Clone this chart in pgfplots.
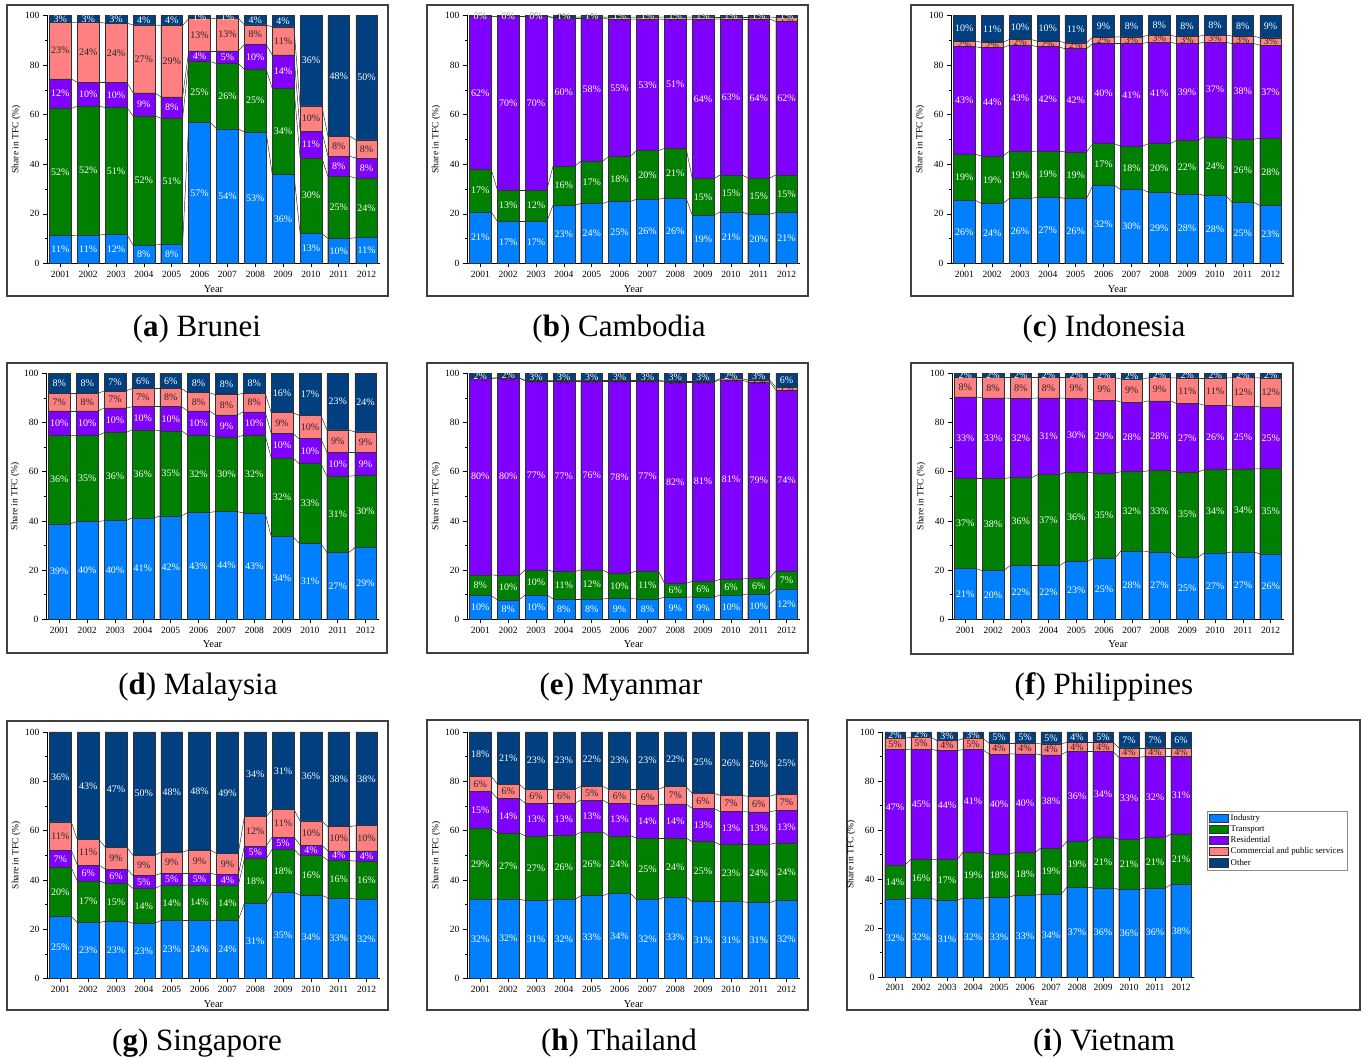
\documentclass[border=0pt]{standalone}
\usepackage{fontspec}
\setmainfont{Liberation Serif}
\usepackage{pgfplots}
\usepackage{pgfplotstable}
\pgfplotsset{compat=1.18}

\definecolor{cInd}{RGB}{0,128,255}
\definecolor{cTra}{RGB}{0,128,0}
\definecolor{cRes}{RGB}{128,0,255}
\definecolor{cCom}{RGB}{255,128,128}
\definecolor{cOth}{RGB}{0,64,128}
\definecolor{bordc}{RGB}{50,50,50}

% columns: x, cumulative tops (Industry, +Transport, +Residential, +Commercial), labels I T R C O
\pgfplotstableread{
x c1 c2 c3 c4 l1 l2 l3 l4 l5
1 11.2 62.5 74.4 97.2 11 52 12 23 3
2 11.5 63.4 73.0 97.3 11 52 10 24 3
3 11.7 62.9 73.0 96.9 12 51 10 24 3
4 7.4 59.5 68.8 96.2 8 52 9 27 4
5 7.7 58.6 67.2 96.0 8 51 8 29 4
6 56.8 81.4 85.7 98.7 57 25 4 13 1
7 54.3 80.6 85.7 98.9 54 26 5 13 1
8 53.0 78.3 88.3 96.2 53 25 10 8 4
9 36.0 70.6 84.1 95.4 36 34 14 11 4
10 12.1 42.6 53.3 63.6 13 30 11 10 36
11 10.1 35.1 43.3 51.4 10 25 8 8 48
12 10.4 34.4 42.5 49.8 11 24 8 8 50
}\tA
\pgfplotstableread{
x c1 c2 c3 c4 l1 l2 l3 l4 l5
1 20.8 37.9 99.5 99.6 21 17 62 0 0
2 17.0 29.7 99.6 99.7 17 13 70 0 0
3 17.0 29.7 99.6 99.7 17 12 70 0 0
4 23.5 39.2 99.0 99.3 23 16 60 0 1
5 24.2 41.2 99.0 99.4 24 17 58 1 1
6 25.0 43.2 98.5 99.3 25 18 55 1 1
7 25.9 45.5 98.6 99.4 26 20 53 1 1
8 26.3 46.4 98.4 99.3 26 21 51 1 1
9 19.5 34.2 98.5 99.4 19 15 64 1 1
10 20.8 35.7 98.6 99.4 21 15 63 1 1
11 19.9 34.5 98.6 99.4 20 15 64 1 1
12 20.5 35.7 97.6 99.2 21 15 62 1 1
}\tB
\pgfplotstableread{
x c1 c2 c3 c4 l1 l2 l3 l4 l5
1 25.5 44.1 87.4 89.7 26 19 43 2 10
2 24.2 43.3 87.0 89.2 24 19 44 2 11
3 26.2 45.2 88.0 90.3 26 19 43 2 10
4 26.7 45.3 87.4 89.7 27 19 42 2 10
5 26.2 45.0 86.6 89.0 26 19 42 2 11
6 31.5 48.3 88.7 91.3 32 17 40 2 9
7 29.8 47.3 88.7 91.4 30 18 41 3 8
8 28.8 48.3 89.2 92.1 29 20 41 3 8
9 28.1 49.6 88.7 91.5 28 22 39 3 8
10 27.4 51.1 89.2 92.1 28 24 37 3 8
11 24.7 50.1 88.7 91.7 25 26 38 3 8
12 23.4 50.5 88.0 91.0 23 28 37 3 9
}\tC
\pgfplotstableread{
x c1 c2 c3 c4 l1 l2 l3 l4 l5
1 38.8 74.8 84.7 91.9 39 36 10 7 8
2 39.7 74.7 84.7 91.9 40 35 10 8 8
3 40.1 75.9 85.9 92.8 40 36 10 7 7
4 41.2 77.0 86.4 93.8 41 36 10 7 6
5 42.0 76.6 86.4 93.8 42 35 10 8 6
6 43.4 74.9 84.7 92.1 43 32 10 8 8
7 43.8 74.0 83.1 91.3 44 30 9 8 8
8 43.2 74.8 84.3 91.9 43 32 10 8 8
9 33.7 65.6 75.5 84.0 34 32 10 9 16
10 30.9 63.3 73.4 82.9 31 33 10 10 17
11 27.1 58.1 67.9 77.0 27 31 10 9 23
12 29.1 58.4 67.9 76.2 29 30 9 9 24
}\tD
\pgfplotstableread{
x c1 c2 c3 c4 l1 l2 l3 l4 l5
1 9.6 18.1 97.8 98.0 10 8 80 0 2
2 7.9 17.8 98.1 98.2 8 10 80 0 2
3 9.9 20.1 96.9 97.1 10 10 77 0 3
4 8.3 19.4 96.9 97.0 8 11 77 0 3
5 8.3 20.1 96.9 97.1 8 12 76 0 3
6 8.4 18.8 96.9 97.1 9 10 78 1 3
7 8.3 19.7 96.9 97.1 8 11 77 1 3
8 9.0 14.7 96.5 96.9 9 6 82 1 3
9 9.1 15.4 96.5 96.9 9 6 81 1 3
10 9.9 16.3 97.3 97.8 10 6 81 1 2
11 10.3 16.7 96.5 97.3 10 6 79 1 3
12 12.4 19.7 93.2 94.3 12 7 74 1 6
}\tE
\pgfplotstableread{
x c1 c2 c3 c4 l1 l2 l3 l4 l5
1 20.6 57.2 90.4 98.2 21 37 33 8 2
2 19.8 57.2 90.0 98.2 20 38 33 8 2
3 21.8 57.6 89.8 98.2 22 36 32 8 2
4 21.8 58.8 90.0 98.2 22 37 31 8 2
5 23.4 59.8 89.8 98.2 23 36 30 9 2
6 24.8 59.5 89.0 98.2 25 35 29 9 2
7 27.8 60.0 88.3 97.7 28 32 28 9 2
8 27.4 60.4 88.8 98.2 27 33 28 9 2
9 25.3 59.9 87.7 98.1 25 35 27 11 2
10 27.0 60.8 87.0 98.1 27 34 26 11 2
11 27.4 61.1 86.7 98.2 27 34 25 12 2
12 26.6 61.2 86.3 98.1 26 35 25 12 2
}\tF
\pgfplotstableread{
x c1 c2 c3 c4 l1 l2 l3 l4 l5
1 25.1 45.0 52.1 63.5 25 20 7 11 36
2 22.7 39.6 46.0 56.3 23 17 6 11 43
3 23.2 38.7 44.4 53.3 23 15 6 9 47
4 22.4 36.5 41.7 49.9 23 14 5 9 50
5 23.5 37.7 42.7 51.3 23 14 5 9 48
6 23.5 38.0 42.7 52.1 24 14 5 9 48
7 23.7 37.7 42.1 50.7 24 14 4 9 49
8 30.5 48.6 53.7 65.7 31 18 5 12 34
9 34.9 52.5 57.4 68.5 35 18 5 11 31
10 33.8 49.8 54.1 63.9 34 16 4 10 36
11 32.6 47.9 51.8 61.6 33 16 4 10 38
12 32.2 47.6 51.8 62.0 32 16 4 10 38
}\tG
\pgfplotstableread{
x c1 c2 c3 c4 l1 l2 l3 l4 l5
1 32.1 60.8 75.8 82.1 32 29 15 6 18
2 32.3 59.0 73.0 78.9 32 27 14 6 21
3 31.6 57.9 71.1 76.7 31 27 13 6 23
4 32.0 58.1 71.1 76.7 32 26 13 6 23
5 33.6 59.4 72.4 78.0 33 26 13 5 22
6 34.5 57.9 71.0 76.7 34 24 13 6 23
7 32.0 57.0 70.4 76.7 32 25 14 6 23
8 33.1 57.0 70.8 77.8 33 24 14 7 22
9 31.2 55.5 69.0 75.1 31 25 13 6 25
10 31.3 54.3 67.7 74.3 31 23 13 7 26
11 30.8 54.4 67.6 73.9 31 24 13 6 26
12 31.6 55.0 68.1 74.6 32 24 13 7 25
}\tH
\pgfplotstableread{
x c1 c2 c3 c4 l1 l2 l3 l4 l5
1 31.9 45.8 92.8 97.5 32 14 47 5 2
2 32.3 48.0 93.0 97.8 32 16 45 5 2
3 31.2 47.9 92.4 96.5 31 17 44 4 3
4 32.2 50.9 92.8 97.3 32 19 41 5 3
5 32.5 50.2 91.0 95.5 33 18 40 4 5
6 33.4 50.8 91.1 95.5 33 18 40 4 5
7 33.7 52.7 90.7 95.1 34 19 38 4 5
8 36.7 55.4 92.0 95.8 37 19 36 4 4
9 36.4 57.0 92.0 95.8 36 21 34 4 5
10 35.7 56.2 89.6 93.5 36 21 33 4 7
11 36.3 57.0 90.0 93.5 36 21 32 4 7
12 37.7 58.4 90.0 93.5 38 21 31 4 6
}\tI

% differences to the next year (for the connector lines between bars)
\newcommand\adddiffs[1]{%
  \pgfplotstablecreatecol[create col/expr={\nextrow{c1}-\thisrow{c1}}]{d1}{#1}%
  \pgfplotstablecreatecol[create col/expr={\nextrow{c2}-\thisrow{c2}}]{d2}{#1}%
  \pgfplotstablecreatecol[create col/expr={\nextrow{c3}-\thisrow{c3}}]{d3}{#1}%
  \pgfplotstablecreatecol[create col/expr={\nextrow{c4}-\thisrow{c4}}]{d4}{#1}%
}
\adddiffs\tA \adddiffs\tB \adddiffs\tC
\adddiffs\tD \adddiffs\tE \adddiffs\tF
\adddiffs\tG \adddiffs\tH \adddiffs\tI

\newcommand\labfont{\fontsize{10}{11}\selectfont}

\pgfplotsset{
  panel/.style={
    scale only axis, anchor=south west,
    width=333pt, height=247pt,
    xmin=0.52, xmax=12.48, ymin=0, ymax=100,
    axis x line*=bottom, axis y line*=left,
    axis line style={black, line width=0.6pt},
    xtick={1,2,3,4,5,6,7,8,9,10,11,12},
    xticklabels={2001,2002,2003,2004,2005,2006,2007,2008,2009,2010,2011,2012},
    ytick={0,20,40,60,80,100}, minor y tick num=1,
    tick align=outside, major tick length=4pt, minor tick length=2pt,
    every tick/.style={black, line width=0.6pt},
    ticklabel style={font=\fontsize{9.5}{11}\selectfont},
    /pgf/number format/assume math mode=true,
    xlabel={Year}, ylabel={Share in TFC (\%)},
    xlabel style={font=\fontsize{10.5}{12}\selectfont, yshift=-1pt},
    ylabel style={font=\fontsize{9.5}{11}\selectfont, yshift=-2pt},
    clip=false,
  },
  barst/.style={ybar, bar width=0.78, bar shift=0pt, draw=bordc, line width=0.5pt, forget plot},
  conn/.style={draw=bordc, line width=0.5pt, forget plot, restrict x to domain=0:12},
  labst/.style={draw=none, forget plot, point meta=explicit symbolic,
    nodes near coords={\pgfplotspointmeta\%},
    every node near coord/.append style={anchor=center, inner sep=0pt, font=\labfont}},
}

\newcommand\drawbars[1]{%
  \addplot[barst, fill=cOth] table[x=x, y expr=100] {#1};
  \addplot[barst, fill=cCom] table[x=x, y=c4] {#1};
  \addplot[barst, fill=cRes] table[x=x, y=c3] {#1};
  \addplot[barst, fill=cTra] table[x=x, y=c2] {#1};
  \addplot[barst, fill=cInd] table[x=x, y=c1] {#1};
  \addplot[conn, quiver={u=0.22, v=\thisrow{d1}}] table[x expr=\thisrow{x}+0.39, y=c1] {#1};
  \addplot[conn, quiver={u=0.22, v=\thisrow{d2}}] table[x expr=\thisrow{x}+0.39, y=c2] {#1};
  \addplot[conn, quiver={u=0.22, v=\thisrow{d3}}] table[x expr=\thisrow{x}+0.39, y=c3] {#1};
  \addplot[conn, quiver={u=0.22, v=\thisrow{d4}}] table[x expr=\thisrow{x}+0.39, y=c4] {#1};
  \addplot[labst, every node near coord/.append style={text=white}] table[x=x, y expr=0.5*\thisrow{c1}, meta=l1] {#1};
  \addplot[labst, every node near coord/.append style={text=white}] table[x=x, y expr=0.5*(\thisrow{c1}+\thisrow{c2}), meta=l2] {#1};
  \addplot[labst, every node near coord/.append style={text=white}] table[x=x, y expr=0.5*(\thisrow{c2}+\thisrow{c3}), meta=l3] {#1};
  \addplot[labst, every node near coord/.append style={text=black!85}] table[x=x, y expr=0.5*(\thisrow{c3}+\thisrow{c4}), meta=l4] {#1};
  \addplot[labst, every node near coord/.append style={text=white}] table[x=x, y expr=0.5*(\thisrow{c4}+100), meta=l5] {#1};
}

\begin{document}
\begin{tikzpicture}[x=1pt, y=1pt]
\path[use as bounding box] (0,0) rectangle (1365,1059);

% frames
\begin{scope}[draw=black!75, line width=1.2pt]
\draw (7,763) rectangle (388,1054);
\draw (427,763) rectangle (808,1054);
\draw (911,763) rectangle (1293,1054);
\draw (7,406) rectangle (387,696);
\draw (427,406) rectangle (808,696);
\draw (911,405) rectangle (1293,696);
\draw (7,49) rectangle (388,338);
\draw (427,49) rectangle (808,339);
\draw (847,49) rectangle (1360,339);
\end{scope}

% captions
\begin{scope}[every node/.style={font=\fontsize{31}{36}\selectfont}]
\node at (197,730) {(\textbf{a}) Brunei};
\node at (619,730) {(\textbf{b}) Cambodia};
\node at (1104,730) {(\textbf{c}) Indonesia};
\node at (198,372) {(\textbf{d}) Malaysia};
\node at (621,372) {(\textbf{e}) Myanmar};
\node at (1104,372) {(\textbf{f}) Philippines};
\node at (197,16) {(\textbf{g}) Singapore};
\node at (619,16) {(\textbf{h}) Thailand};
\node at (1104,16) {(\textbf{i}) Vietnam};
\end{scope}

\begin{axis}[panel, at={(47pt,795.5pt)}, height=248pt]
\drawbars{\tA}
\end{axis}
\begin{axis}[panel, at={(467pt,795.5pt)}, height=248pt]
\drawbars{\tB}
\end{axis}
\begin{axis}[panel, at={(951pt,795.5pt)}, height=248pt]
\drawbars{\tC}
\end{axis}

\begin{axis}[panel, at={(46pt,439.7pt)}, height=246pt]
\drawbars{\tD}
\end{axis}
\begin{axis}[panel, at={(467pt,439.7pt)}, height=246pt]
\drawbars{\tE}
\end{axis}
\begin{axis}[panel, at={(952pt,439.7pt)}, height=246pt, width=332pt]
\drawbars{\tF}
\end{axis}

\begin{axis}[panel, at={(47pt,80.5pt)}, height=246.5pt]
\drawbars{\tG}
\end{axis}
\begin{axis}[panel, at={(467pt,80.5pt)}, height=246.5pt]
\drawbars{\tH}
\end{axis}
\begin{axis}[panel, at={(882pt,82pt)}, width=312pt, height=245pt,
  xmin=0.5, xmax=12.5,
  legend cell align=left,
  legend image code/.code={\draw[#1, draw=bordc, line width=0.5pt] (0pt,-4pt) rectangle (19pt,4.5pt);},
  legend style={at={(1.042,0.678)}, anchor=north west, draw=black!45, line width=0.6pt,
    font=\fontsize{8.8}{10}\selectfont, inner xsep=2pt, inner ysep=1.5pt, row sep=0pt,
    nodes={inner sep=1.8pt}}]
\drawbars{\tI}
\addlegendimage{fill=cInd}\addlegendentry{Industry}
\addlegendimage{fill=cTra}\addlegendentry{Transport}
\addlegendimage{fill=cRes}\addlegendentry{Residential}
\addlegendimage{fill=cCom}\addlegendentry{Commercial and public services}
\addlegendimage{fill=cOth}\addlegendentry{Other}
\end{axis}
\end{tikzpicture}
\end{document}
